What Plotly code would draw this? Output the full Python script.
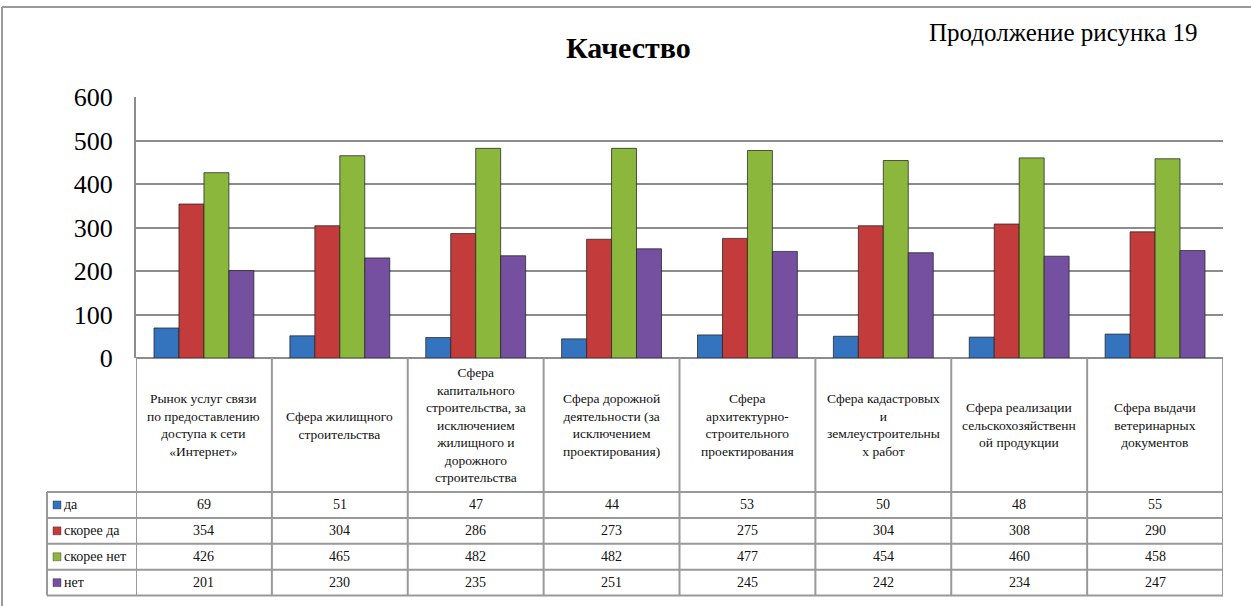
import plotly.graph_objects as go

# ---------------- data ----------------
categories = [
    "Рынок услуг связи по предоставлению доступа к сети «Интернет»",
    "Сфера жилищного строительства",
    "Сфера капитального строительства, за исключением жилищного и дорожного строительства",
    "Сфера дорожной деятельности (за исключением проектирования)",
    "Сфера архитектурно-строительного проектирования",
    "Сфера кадастровых и землеустроительных работ",
    "Сфера реализации сельскохозяйственной продукции",
    "Сфера выдачи ветеринарных документов",
]
category_labels = [
    "Рынок услуг связи<br>по предоставлению<br>доступа к сети<br>«Интернет»",
    "Сфера жилищного<br>строительства",
    "Сфера<br>капитального<br>строительства, за<br>исключением<br>жилищного и<br>дорожного<br>строительства",
    "Сфера дорожной<br>деятельности (за<br>исключением<br>проектирования)",
    "Сфера<br>архитектурно-<br>строительного<br>проектирования",
    "Сфера кадастровых<br>и<br>землеустроительны<br>х работ",
    "Сфера реализации<br>сельскохозяйственн<br>ой продукции",
    "Сфера выдачи<br>ветеринарных<br>документов",
]
series_names = ["да", "скорее да", "скорее нет", "нет"]
da = [69, 51, 47, 44, 53, 50, 48, 55]
skoree_da = [354, 304, 286, 273, 275, 304, 308, 290]
skoree_net = [426, 465, 482, 482, 477, 454, 460, 458]
net = [201, 230, 235, 251, 245, 242, 234, 247]
series_values = [da, skoree_da, skoree_net, net]
y_ticks = [0, 100, 200, 300, 400, 500, 600]

title_text = "Качество"
note_text = "Продолжение рисунка 19"

# ---------------- style ----------------
colors = ["#3473BD", "#C43B3C", "#8CB73D", "#7550A0"]
edge = "rgba(35,35,35,0.75)"
grid_col = "#8C8C8C"
table_col = "#999999"
font_family = "Times New Roman"

W, H = 1251, 606
PL, PR, PT, PB = 136, 1223, 97, 358  # plot area in pixels


def px(x):
    return (x - PL) / (PR - PL)


def py(y):
    return (PB - y) / (PB - PT)


fig = go.Figure()
xs = list(range(len(categories)))
for name, vals, col in zip(series_names, series_values, colors):
    fig.add_trace(go.Bar(
        x=xs, y=vals, name=name,
        marker=dict(color=col, line=dict(color=edge, width=1)),
        showlegend=False,
    ))

shapes = []
annotations = []

# outer chart border
shapes.append(dict(type="line", xref="paper", yref="paper",
                   x0=px(2), x1=px(1260), y0=py(7), y1=py(7),
                   line=dict(color="#9A9A9A", width=2)))
shapes.append(dict(type="line", xref="paper", yref="paper",
                   x0=px(2), x1=px(2), y0=py(7), y1=py(620),
                   line=dict(color="#9A9A9A", width=2)))

# data table
header_bottom = 492
row_h = 25.9
row_tops = [header_bottom + i * row_h for i in range(len(series_names) + 1)]
table_bottom = row_tops[-1]
legend_left = 47
n = len(categories)

for i in range(n + 1):
    shapes.append(dict(type="line", xref="x", yref="paper",
                       x0=i - 0.5, x1=i - 0.5, y0=py(PB), y1=py(table_bottom),
                       line=dict(color=table_col, width=2)))
shapes.append(dict(type="line", xref="paper", yref="paper",
                   x0=px(legend_left), x1=px(legend_left),
                   y0=py(header_bottom), y1=py(table_bottom),
                   line=dict(color=table_col, width=2)))
for yy in row_tops:
    shapes.append(dict(type="line", xref="paper", yref="paper",
                       x0=px(legend_left), x1=1, y0=py(yy), y1=py(yy),
                       line=dict(color=table_col, width=2)))

for i, lab in enumerate(category_labels):
    annotations.append(dict(x=i, xref="x", y=py((PB + header_bottom) / 2), yref="paper",
                            text=lab, showarrow=False, xanchor="center", yanchor="middle",
                            align="center",
                            font=dict(family=font_family, size=13.5, color="#111111")))

for r, (name, vals, col) in enumerate(zip(series_names, series_values, colors)):
    yc = (row_tops[r] + row_tops[r + 1]) / 2
    shapes.append(dict(type="rect", xref="paper", yref="paper",
                       x0=px(53), x1=px(61), y0=py(yc - 4), y1=py(yc + 4),
                       fillcolor=col, line=dict(color=edge, width=0.5)))
    annotations.append(dict(x=px(62), xref="paper", y=py(yc), yref="paper",
                            text=name, showarrow=False, xanchor="left", yanchor="middle",
                            font=dict(family=font_family, size=14, color="#111111")))
    for i, v in enumerate(vals):
        annotations.append(dict(x=i, xref="x", y=py(yc), yref="paper",
                                text=str(v), showarrow=False, xanchor="center",
                                yanchor="middle",
                                font=dict(family=font_family, size=14, color="#111111")))

annotations.append(dict(x=px(628), xref="paper", y=py(48), yref="paper",
                        text="<b>" + title_text + "</b>", showarrow=False,
                        xanchor="center", yanchor="middle",
                        font=dict(family=font_family, size=30, color="#000000")))
annotations.append(dict(x=px(927), xref="paper", y=py(33), yref="paper",
                        text=note_text, showarrow=False,
                        xanchor="left", yanchor="middle",
                        font=dict(family=font_family, size=25, color="#000000")))

fig.update_layout(
    width=W, height=H,
    margin=dict(l=PL, r=W - PR, t=PT, b=H - PB, pad=0),
    paper_bgcolor="white", plot_bgcolor="white",
    barmode="group", bargap=0.265, bargroupgap=0,
    shapes=shapes, annotations=annotations,
    showlegend=False,
    font=dict(family=font_family),
)
fig.update_xaxes(range=[-0.5, n - 0.5], showticklabels=False, showgrid=False,
                 zeroline=False, showline=False, ticks="", fixedrange=True)
fig.update_yaxes(range=[0, 600], tickvals=y_ticks, showgrid=True,
                 gridcolor=grid_col, gridwidth=2, zeroline=True,
                 zerolinecolor=grid_col, zerolinewidth=2,
                 showline=True, linecolor=grid_col, linewidth=2,
                 ticks="", ticklabelstandoff=16,
                 tickfont=dict(family=font_family, size=26, color="#000000"),
                 fixedrange=True)

fig.write_html("out.html", config={"displayModeBar": False},
               post_script="document.body.style.margin='0';document.body.style.padding='0';")
